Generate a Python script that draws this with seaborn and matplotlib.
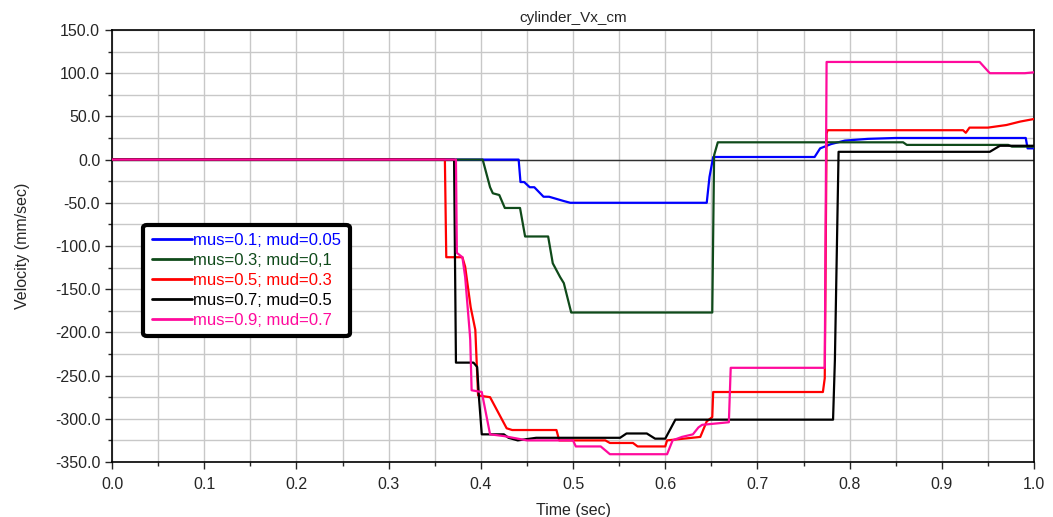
import numpy as np
import pandas as pd
import matplotlib
matplotlib.use("Agg")
import matplotlib.pyplot as plt
from matplotlib.ticker import MultipleLocator, FormatStrFormatter
import seaborn as sns

# series (time in sec, velocity in mm/sec)
labels = ["mus=0.1; mud=0.05", "mus=0.3; mud=0,1", "mus=0.5; mud=0.3",
          "mus=0.7; mud=0.5", "mus=0.9; mud=0.7"]
colors = ["#0000ff", "#0f4a1a", "#ff0000", "#000000", "#ff0a9c"]

t_blue = [0, 0.441, 0.443, 0.447, 0.453, 0.458, 0.468, 0.474, 0.49, 0.497, 0.645,
          0.648, 0.652, 0.762, 0.768, 0.78, 0.795, 0.82, 0.85, 0.991, 0.993, 1.0]
v_blue = [0, 0, -26, -26, -32, -32, -43, -43, -48, -50, -50,
          -20, 3, 3, 13, 18, 22, 24, 25, 25, 13, 13]

t_green = [0, 0.402, 0.41, 0.413, 0.42, 0.426, 0.4425, 0.448, 0.473, 0.478, 0.486,
           0.49, 0.498, 0.651, 0.653, 0.657, 0.858, 0.862, 0.972, 0.976, 1.0]
v_green = [0, 0, -32, -39, -41, -56, -56, -89, -89, -120, -136,
           -143, -177, -177, 5, 20, 20, 17, 17, 15, 15]

t_red = [0, 0.361, 0.362, 0.3625, 0.38, 0.383, 0.389, 0.394, 0.397, 0.41, 0.428,
         0.434, 0.482, 0.485, 0.535, 0.54, 0.565, 0.57, 0.6, 0.602, 0.638, 0.645,
         0.651, 0.652, 0.771, 0.773, 0.775, 0.776, 0.923, 0.926, 0.93, 0.95,
         0.97, 0.985, 1.0]
v_red = [0, 0, -76, -113, -113, -124, -171, -197, -273, -275, -311,
         -313, -313, -325, -325, -328, -328, -332, -332, -325, -321, -303,
         -298, -269, -269, -253, 30, 34, 34, 31, 37, 37,
         40, 44, 47]

t_black = [0, 0.371, 0.372, 0.373, 0.392, 0.396, 0.398, 0.401, 0.425, 0.43, 0.44,
           0.46, 0.551, 0.558, 0.58, 0.589, 0.6, 0.611, 0.782, 0.784, 0.788,
           0.952, 0.963, 1.0]
v_black = [0, 0, -120, -235, -235, -240, -276, -318, -318, -322, -325,
           -322, -322, -317, -317, -323, -323, -301, -301, -232, 9,
           9, 16, 16]

t_pink = [0, 0.373, 0.374, 0.38, 0.383, 0.388, 0.3885, 0.39, 0.401, 0.41, 0.425,
          0.45, 0.5, 0.503, 0.53, 0.54, 0.564, 0.602, 0.608, 0.618, 0.63,
          0.636, 0.64, 0.669, 0.671, 0.773, 0.775, 0.941, 0.952, 0.99, 1.0]
v_pink = [0, 0, -108, -113, -136, -201, -209, -267, -269, -318, -320,
          -325, -325, -332, -332, -341, -341, -341, -325, -321, -318,
          -310, -307, -304, -241, -241, 113, 113, 100, 100, 101]

series = [(t_blue, v_blue), (t_green, v_green), (t_red, v_red),
          (t_black, v_black), (t_pink, v_pink)]
frames = []
for lab, (t, v) in zip(labels, series):
    frames.append(pd.DataFrame({"time": t, "vel": v, "case": lab}))
df = pd.concat(frames, ignore_index=True)

sns.set_style("ticks")
plt.rcParams["font.family"] = ["Liberation Sans Narrow", "Liberation Sans", "DejaVu Sans"]

fig = plt.figure(figsize=(10.53, 5.17), dpi=100)
ax = fig.add_axes([0.1064, 0.1064, 0.8756, 0.8356])

ax.axhline(0, color="#303030", lw=1.0, zorder=1)
sns.lineplot(data=df, x="time", y="vel", hue="case", hue_order=labels,
             palette=colors, sort=False, estimator=None, lw=1.6, ax=ax,
             zorder=3)

ax.set_xlim(0, 1.0)
ax.set_ylim(-350, 150)
ax.xaxis.set_major_locator(MultipleLocator(0.1))
ax.xaxis.set_minor_locator(MultipleLocator(0.05))
ax.yaxis.set_major_locator(MultipleLocator(50))
ax.yaxis.set_minor_locator(MultipleLocator(25))
ax.xaxis.set_major_formatter(FormatStrFormatter("%.1f"))
ax.yaxis.set_major_formatter(FormatStrFormatter("%.1f"))
ax.grid(True, which="both", color="#c8c8c8", lw=1.0, zorder=0)
ax.set_axisbelow(True)
ax.tick_params(which="major", length=5, width=1, labelsize=11.5)
ax.tick_params(axis="x", which="major", pad=6)
ax.tick_params(which="minor", length=3, width=1)
for sp in ax.spines.values():
    sp.set_color("black")
    sp.set_linewidth(1.2)

ax.set_title("cylinder_Vx_cm", fontsize=11, pad=6)
ax.set_xlabel("Time (sec)", fontsize=11.5, labelpad=8)
ax.set_ylabel("Velocity (mm/sec)", fontsize=11.5, labelpad=18)

leg = ax.legend(loc="upper left", bbox_to_anchor=(0.034, 0.549), fontsize=12,
                labelcolor="linecolor", handlelength=2.4, labelspacing=0.3,
                handletextpad=0.1, borderpad=0.5, borderaxespad=0,
                fancybox=True, framealpha=1)
leg.get_frame().set_edgecolor("black")
leg.get_frame().set_linewidth(3)
for h in leg.get_lines():
    h.set_linewidth(2)

fig.savefig("out.png", dpi=100)
